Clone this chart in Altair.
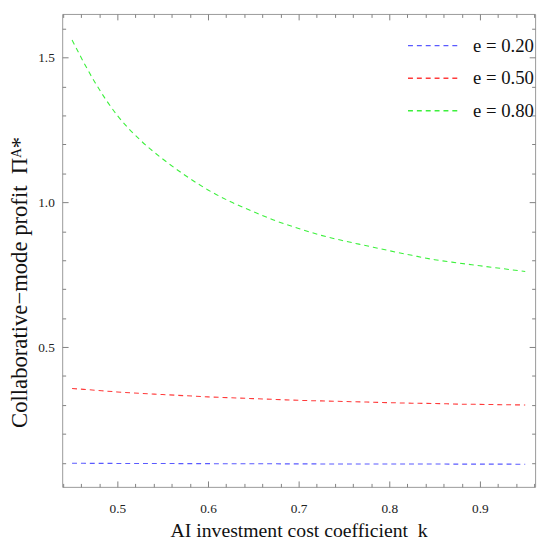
import altair as alt
import pandas as pd

k_values = [0.45, 0.475, 0.5, 0.525, 0.55, 0.575, 0.6, 0.625, 0.65, 0.675, 0.7,
            0.725, 0.75, 0.775, 0.8, 0.825, 0.85, 0.875, 0.9, 0.925, 0.95]
profit_e020 = [0.0985, 0.0982, 0.098, 0.0978, 0.0976, 0.0974, 0.0972, 0.097, 0.0968, 0.0966, 0.0964,
               0.0963, 0.0962, 0.0961, 0.096, 0.0959, 0.0958, 0.0957, 0.0956, 0.0955, 0.0954]
profit_e050 = [0.357, 0.351, 0.345, 0.340, 0.336, 0.332, 0.328, 0.325, 0.322, 0.319, 0.316,
               0.314, 0.312, 0.310, 0.308, 0.306, 0.305, 0.303, 0.302, 0.301, 0.300]
profit_e080 = [1.561, 1.416, 1.300, 1.216, 1.150, 1.093, 1.043, 1.002, 0.968, 0.936, 0.910,
               0.886, 0.867, 0.850, 0.833, 0.817, 0.802, 0.791, 0.781, 0.771, 0.761]
series_labels = ["e = 0.20", "e = 0.50", "e = 0.80"]
series_colors = ["#5a5aff", "#ff3b3b", "#3cf03c"]

x_major = [0.5, 0.6, 0.7, 0.8, 0.9]
x_minor = [0.44, 0.46, 0.48, 0.52, 0.54, 0.56, 0.58, 0.62, 0.64, 0.66, 0.68,
           0.72, 0.74, 0.76, 0.78, 0.82, 0.84, 0.86, 0.88, 0.92, 0.94, 0.96]
y_major = [0.5, 1.0, 1.5]
y_minor = [0.1, 0.2, 0.3, 0.4, 0.6, 0.7, 0.8, 0.9, 1.1, 1.2, 1.3, 1.4, 1.6]

x_domain = [0.4391, 0.9609]
y_domain = [0.017, 1.651]

W, H = 480, 480
SERIF = "Liberation Serif, Times New Roman, Times, serif"
TICK_COLOR = "#808080"

rows = []
for lab, vals in zip(series_labels, [profit_e020, profit_e050, profit_e080]):
    for k, v in zip(k_values, vals):
        rows.append({"k": k, "profit": v, "series": lab})
df = pd.DataFrame(rows)

xs = alt.Scale(domain=x_domain, nice=False, zero=False)
ys = alt.Scale(domain=y_domain, nice=False, zero=False)

lines = alt.Chart(df).mark_line(strokeWidth=1.1, strokeDash=[5, 4], interpolate="monotone").encode(
    x=alt.X("k:Q", scale=xs,
            axis=alt.Axis(title="AI investment cost coefficient\u2002k", values=x_major, format=".1f",
                          titleFontSize=20, titleY=50, titleBaseline="alphabetic",
                          ticks=False, domain=False, grid=False, labelPadding=15)),
    y=alt.Y("profit:Q", scale=ys,
            axis=alt.Axis(title="Collaborative\u2212mode profit\u2002\u03a0\u1d2c*", values=y_major, format=".1f",
                          titleFontSize=23, titleX=-36, titleY=272, titleBaseline="alphabetic",
                          ticks=False, domain=False, grid=False, labelPadding=8)),
    color=alt.Color("series:N",
                    scale=alt.Scale(domain=series_labels, range=series_colors),
                    legend=alt.Legend(title=None, orient="none", legendX=350, legendY=16,
                                      symbolType="stroke", symbolSize=2916, symbolStrokeWidth=1.3,
                                      symbolDash=[5, 4], labelFont=SERIF, labelFontSize=19,
                                      labelColor="#111", labelOffset=11, rowPadding=0,
                                      clipHeight=32.5)),
)

ghost = alt.Chart(df).mark_line(opacity=0)


def x_tick_layer(orient, vals, size):
    return ghost.encode(
        x=alt.X("k:Q", scale=xs,
                axis=alt.Axis(orient=orient, offset=-H, values=vals, labels=False, domain=False,
                              grid=False, ticks=True, tickSize=size, tickColor=TICK_COLOR,
                              tickWidth=1, title=None)),
        y=alt.Y("profit:Q", scale=ys, axis=None))


def y_tick_layer(orient, vals, size):
    return ghost.encode(
        x=alt.X("k:Q", scale=xs, axis=None),
        y=alt.Y("profit:Q", scale=ys,
                axis=alt.Axis(orient=orient, offset=-W, values=vals, labels=False, domain=False,
                              grid=False, ticks=True, tickSize=size, tickColor=TICK_COLOR,
                              tickWidth=1, title=None)))


# inward ticks: an axis of the opposite orientation moved onto the frame edge
tick_layers = [
    x_tick_layer("top", x_major, 6), x_tick_layer("top", x_minor, 3.5),        # bottom edge
    x_tick_layer("bottom", x_major, 6), x_tick_layer("bottom", x_minor, 3.5),  # top edge
    y_tick_layer("right", y_major, 6), y_tick_layer("right", y_minor, 3.5),    # left edge
    y_tick_layer("left", y_major, 6), y_tick_layer("left", y_minor, 3.5),      # right edge
]

chart = alt.layer(lines, *tick_layers).resolve_axis(
    x="independent", y="independent"
).properties(
    width=W, height=H,
    autosize=alt.AutoSizeParams(type="none"),
    padding={"left": 55, "top": 2, "right": 7, "bottom": 58},
).configure_view(
    stroke="#999", strokeWidth=1
).configure_axis(
    labelFont=SERIF, labelFontSize=13.5, labelColor="#222",
    titleFont=SERIF, titleFontWeight="normal", titleColor="#111"
)

chart.save("out.html", embed_options={"renderer": "svg", "actions": False})
